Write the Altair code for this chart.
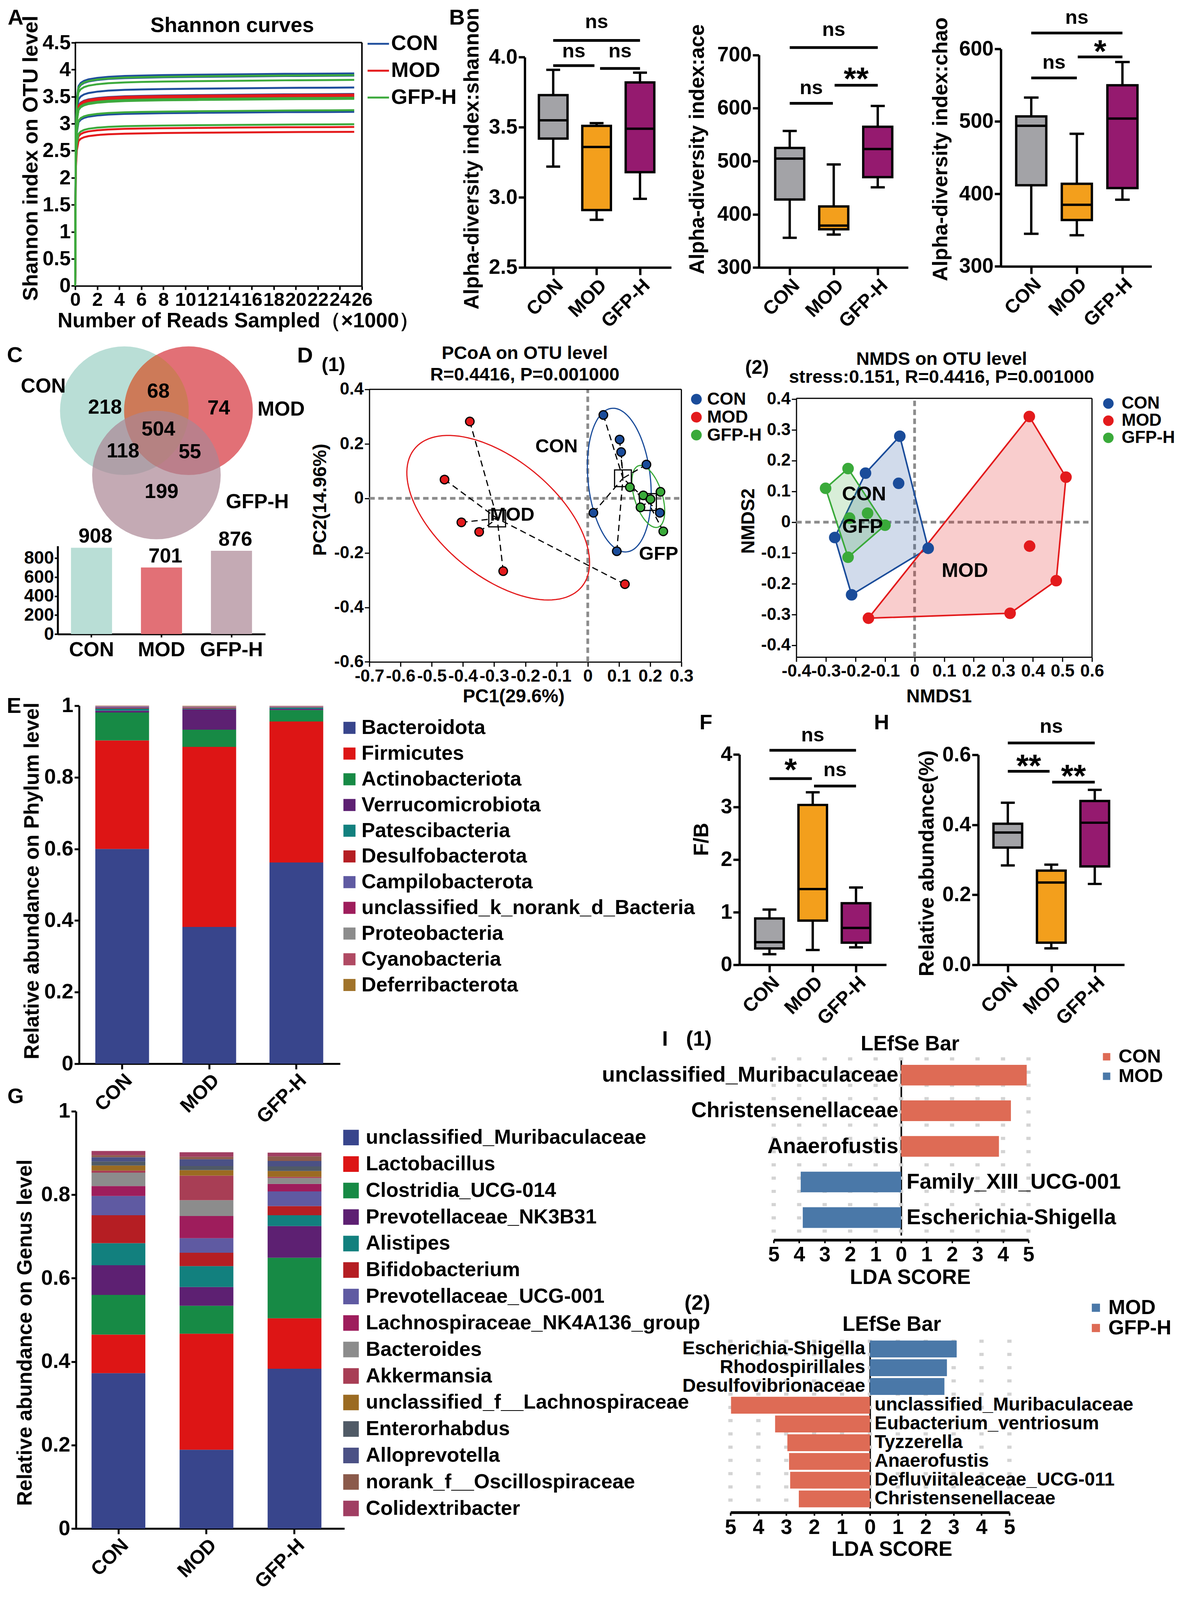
import altair as alt
import numpy as np
import pandas as pd

FONT = "Liberation Sans"
M = 8
SY = 4096 / 4257          # visible picture height / reference height
W, H = 3018, 4088
FS = 0.97                 # font scale


def px(v):                # reference x -> canvas x
    return v - M


def py(v):                # reference y -> canvas y
    return v * SY - M


def f(n):
    return round(n * FS)


GROUPS = ["CON", "MOD", "GFP-H"]

# ---------------- A: Shannon curves ----------------
A_READS_K = [0, 0.05, 0.15, 0.3, 0.5, 0.8, 1.2, 2, 3, 4.5, 6, 8, 11, 15, 19, 23, 25.3]
A_PROFILE = [0, 0.75, 0.88, 0.94, 0.955, 0.965, 0.972, 0.979, 0.984, 0.988, 0.99,
             0.992, 0.994, 0.996, 0.998, 0.999, 1.0]
A_END_CON = [3.93, 3.89, 3.67, 3.55, 3.50, 3.22]
A_END_MOD = [3.54, 3.52, 3.50, 3.47, 2.94, 2.85]
A_END_GFP = [3.90, 3.81, 3.48, 3.46, 3.25, 2.99]
LINE_COLORS = ["#1F4E9C", "#E41A1C", "#3DAA3D"]

# ---------------- B / F / H: box plots ----------------
BOX_COLORS = ["#A3A3A7", "#F39F1C", "#951A6F"]
SHANNON = dict(lo=[3.22, 2.84, 2.99], q1=[3.42, 2.91, 3.18], med=[3.55, 3.36, 3.49],
               q3=[3.73, 3.51, 3.82], hi=[3.91, 3.53, 3.89])
ACE = dict(lo=[356, 362, 451], q1=[428, 372, 470], med=[505, 379, 523],
           q3=[525, 415, 565], hi=[557, 494, 604])
CHAO = dict(lo=[345, 343, 392], q1=[412, 364, 408], med=[494, 385, 504],
            q3=[507, 414, 550], hi=[533, 483, 582])
FB = dict(lo=[0.20, 0.28, 0.33], q1=[0.31, 0.84, 0.42], med=[0.43, 1.44, 0.70],
          q3=[0.88, 3.04, 1.17], hi=[1.05, 3.28, 1.47])
RA = dict(lo=[0.284, 0.047, 0.231], q1=[0.335, 0.063, 0.281], med=[0.378, 0.235, 0.406],
          q3=[0.403, 0.269, 0.468], hi=[0.463, 0.286, 0.500])
# (from, to, line y, text y, label)
SIG_SHANNON = [(0, 2, 4.12, 4.25, "ns"), (0, 0.95, 3.94, 4.04, "ns"), (1.08, 2, 3.92, 4.04, "ns")]
SIG_ACE = [(0, 2, 714, 747, "ns"), (0, 0.98, 609, 637, "ns"), (1.02, 2, 643, 668, "**")]
SIG_CHAO = [(0, 2, 622, 643, "ns"), (0, 1, 560, 581, "ns"), (1.02, 2, 589, 606, "*")]
SIG_FB = [(0, 2, 4.08, 4.36, "ns"), (0, 0.98, 3.54, 3.84, "*"), (1.03, 2, 3.40, 3.70, "ns")]
SIG_RA = [(0, 2, 0.634, 0.68, "ns"), (0, 0.96, 0.553, 0.588, "**"), (1.02, 2, 0.522, 0.559, "**")]

# ---------------- C: Venn + totals ----------------
VENN_SETS = ["CON", "MOD", "GFP-H"]
VENN_X = [0.0, 1.0, 0.5]
VENN_Y = [0.0, 0.0, -1.0]
VENN_FILL = ["#B9DED6", "#E27076", "#AB8694"]
VENN_OPACITY = [1.0, 1.0, 0.7]
VENN_CON_MOD_FILL = "#CD7A58"
VENN_COUNTS = [218, 68, 74, 504, 118, 55, 199]
VENN_TX = [-0.30, 0.53, 1.47, 0.53, -0.02, 1.02, 0.58]
VENN_TY = [0.05, 0.30, 0.04, -0.29, -0.63, -0.64, -1.26]
VENN_LAB_X = [-1.26, 2.44, 2.07]
VENN_LAB_Y = [0.38, 0.02, -1.42]
C_TOTALS = [908, 701, 876]
C_COLORS = ["#B9DED6", "#E27076", "#C4AAB4"]

# ---------------- D: PCoA / NMDS ----------------
D_COLORS = ["#1A4C9A", "#E31A1C", "#3AAA3A"]
PC_CON_X = [0.050, 0.102, 0.107, 0.188, 0.018, 0.093, 0.231]
PC_CON_Y = [0.306, 0.216, 0.170, 0.124, -0.053, -0.194, -0.053]
PC_MOD_X = [-0.378, -0.459, -0.405, -0.348, -0.271, 0.119]
PC_MOD_Y = [0.282, 0.069, -0.088, -0.123, -0.267, -0.315]
PC_GFP_X = [0.135, 0.178, 0.233, 0.169, 0.242, 0.201]
PC_GFP_Y = [0.041, 0.011, 0.024, -0.033, -0.121, -0.003]
# group, centre x, centre y, semi-major, semi-minor, angle (deg)
PC_ELLIPSES = [("CON", 0.101, 0.067, 0.2645, 0.10, -85.0),
               ("MOD", -0.287, -0.071, 0.37, 0.20, -46.6),
               ("GFP-H", 0.194, 0.007, 0.117, 0.045, -75.4)]
PC_LABELS = [("CON", -0.10, 0.19), ("MOD", -0.242, -0.06), ("GFP", 0.227, -0.204)]
NM_CON_X = [-0.050, -0.166, -0.054, -0.270, -0.213, 0.046]
NM_CON_Y = [0.279, 0.159, 0.126, -0.050, -0.236, -0.085]
NM_MOD_X = [0.388, 0.512, 0.479, 0.323, -0.156, 0.389]
NM_MOD_Y = [0.343, 0.146, -0.190, -0.296, -0.312, -0.078]
NM_GFP_X = [-0.225, -0.301, -0.159, -0.220, -0.100, -0.225]
NM_GFP_Y = [0.174, 0.110, 0.029, 0.013, -0.010, -0.114]
NM_LABELS = [("CON", -0.171, 0.089), ("GFP", -0.176, -0.016), ("MOD", 0.170, -0.159)]

# ---------------- E: phylum ----------------
PHYLA = ["Bacteroidota", "Firmicutes", "Actinobacteriota", "Verrucomicrobiota",
         "Patescibacteria", "Desulfobacterota", "Campilobacterota",
         "unclassified_k_norank_d_Bacteria", "Proteobacteria", "Cyanobacteria",
         "Deferribacterota"]
PHY_COLORS = ["#38458C", "#DD1515", "#178A45", "#5D2072", "#12807E", "#B51E23",
              "#5F5AA2", "#9E1D5C", "#8C8C8C", "#B04A63", "#A0732A"]
PHY_CON = [0.600, 0.303, 0.078, 0.005, 0.006, 0.002, 0.003, 0.001, 0.001, 0.001, 0.0005]
PHY_MOD = [0.382, 0.503, 0.048, 0.057, 0.002, 0.002, 0.001, 0.001, 0.002, 0.001, 0.001]
PHY_GFP = [0.562, 0.394, 0.032, 0.003, 0.004, 0.001, 0.001, 0.001, 0.001, 0.0005, 0.0005]

# ---------------- G: genus ----------------
GENERA = ["unclassified_Muribaculaceae", "Lactobacillus", "Clostridia_UCG-014",
          "Prevotellaceae_NK3B31", "Alistipes", "Bifidobacterium", "Prevotellaceae_UCG-001",
          "Lachnospiraceae_NK4A136_group", "Bacteroides", "Akkermansia",
          "unclassified_f__Lachnospiraceae", "Enterorhabdus", "Alloprevotella",
          "norank_f__Oscillospiraceae", "Colidextribacter"]
GEN_COLORS = ["#38458C", "#DD1515", "#178A45", "#5D2072", "#12807E", "#B51E23",
              "#5F5AA2", "#9E1D5C", "#8C8C8C", "#A83E55", "#9B6B22", "#505A66",
              "#4B5185", "#8B5A4B", "#A03E62"]
GEN_CON = [0.3725, 0.0925, 0.095, 0.071, 0.053, 0.067, 0.046, 0.024, 0.032, 0.005,
           0.012, 0.010, 0.010, 0.005, 0.010]
GEN_MOD = [0.189, 0.278, 0.067, 0.045, 0.050, 0.032, 0.035, 0.053, 0.038, 0.059,
           0.013, 0.010, 0.016, 0.006, 0.011]
GEN_GFP = [0.383, 0.121, 0.145, 0.076, 0.026, 0.022, 0.035, 0.018, 0.014, 0.003,
           0.014, 0.011, 0.013, 0.011, 0.009]

# ---------------- I: LEfSe ----------------
LDA_RED = "#DE6B55"
LDA_BLUE = "#4A78A8"
LDA1_TAXA = ["unclassified_Muribaculaceae", "Christensenellaceae", "Anaerofustis",
             "Family_XIII_UCG-001", "Escherichia-Shigella"]
LDA1_SCORE = [4.93, 4.31, 3.84, -3.94, -3.86]
LDA1_GROUP = ["CON", "CON", "CON", "MOD", "MOD"]
LDA2_TAXA = ["Escherichia-Shigella", "Rhodospirillales", "Desulfovibrionaceae",
             "unclassified_Muribaculaceae", "Eubacterium_ventriosum", "Tyzzerella",
             "Anaerofustis", "Defluviitaleaceae_UCG-011", "Christensenellaceae"]
LDA2_SCORE = [3.11, 2.76, 2.67, -4.98, -3.40, -2.96, -2.90, -2.86, -2.55]
LDA2_GROUP = ["MOD", "MOD", "MOD", "GFP-H", "GFP-H", "GFP-H", "GFP-H", "GFP-H", "GFP-H"]
LDA_TICKS = list(range(-5, 6))

# ---------------- annotations (text, ref x, ref y, font size) ----------------
ANNOT = [("A", 40, 42, 58), ("B", 1173, 42, 58), ("C", 38, 943, 58), ("D", 783, 944, 58),
         ("(1)", 856, 969, 52), ("(2)", 1943, 976, 52), ("E", 36, 1878, 58),
         ("F", 1812, 1923, 56), ("H", 2263, 1923, 56), ("G", 40, 2920, 56),
         ("I", 1707, 2767, 56), ("(1)", 1794, 2767, 56), ("(2)", 1790, 3472, 56),
         ("Shannon curves", 596, 63, 56),
         ("PCoA on OTU level", 1347, 937, 48), ("R=0.4416, P=0.001000", 1347, 995, 48),
         ("NMDS on OTU level", 2417, 953, 48),
         ("stress:0.151, R=0.4416, P=0.001000", 2417, 1001, 48),
         ("LEfSe Bar", 2336, 2780, 55), ("LEfSe Bar", 2289, 3528, 55)]


# ====================================================================
def axis(orient, pos, **kw):
    off = (py(pos) - H) if orient == "bottom" else (-px(pos))
    d = dict(orient=orient, offset=off, grid=False, labelOverlap=False, labelFlush=False,
             domainColor="black", tickColor="black", labelColor="black", titleColor="black",
             labelFont=FONT, titleFont=FONT, labelFontWeight="bold", titleFontWeight="bold",
             labelLimit=2000)
    d.update(kw)
    return alt.Axis(**d)


def legend(x, y, **kw):
    d = dict(orient="none", legendX=px(x), legendY=py(y), title=None, padding=0,
             labelFont=FONT, labelFontWeight="bold", labelColor="black", labelLimit=2000)
    d.update(kw)
    return alt.Legend(**d)


# ---------------- A ----------------
def panel_a():
    rows = []
    for g, ends in zip(GROUPS, [A_END_CON, A_END_MOD, A_END_GFP]):
        for s, e in enumerate(ends):
            for r, p in zip(A_READS_K, A_PROFILE):
                rows.append({"g": g, "s": f"{g}_{s}", "x": r, "y": e * p})
    df = pd.DataFrame(rows)
    xs = alt.Scale(domain=[0, 26], range=[px(193), px(929)], nice=False, zero=False)
    ys = alt.Scale(domain=[0, 4.5], range=[py(757), py(108)], nice=False, zero=False)
    xa = axis("bottom", 757, values=list(range(0, 27, 2)), labelFontSize=f(51), tickSize=10,
              tickWidth=4, domainWidth=4, labelPadding=2,
              title="Number of Reads Sampled（×1000）", titleFontSize=f(55),
              titleX=px(612), titleY=93 * SY, titleBaseline="middle")
    ya = axis("left", 193, values=[i * 0.5 for i in range(10)], format=".1~f",
              labelFontSize=f(54), tickSize=10, tickWidth=4, domainWidth=4, labelPadding=2,
              title="Shannon index on OTU level", titleFontSize=f(56), titleX=-113,
              titleY=py(416), titleBaseline="middle")
    lines = alt.Chart(df).mark_line(strokeWidth=5).encode(
        x=alt.X("x:Q", scale=xs, axis=xa), y=alt.Y("y:Q", scale=ys, axis=ya),
        color=alt.Color("g:N", scale=alt.Scale(domain=GROUPS, range=LINE_COLORS),
                        legend=legend(941, 80, symbolType="stroke", symbolSize=3025,
                                      symbolStrokeWidth=5, labelFontSize=f(56), rowPadding=12,
                                      labelOffset=3)),
        detail="s:N")
    frame = pd.DataFrame({"x": [0, 26], "x2": [26, 26], "y": [4.5, 0], "y2": [4.5, 4.5]})
    fr = alt.Chart(frame).mark_rule(color="black", strokeWidth=4).encode(
        x=alt.X("x:Q", scale=xs, axis=xa), x2="x2:Q",
        y=alt.Y("y:Q", scale=ys, axis=ya), y2="y2:Q")
    return alt.layer(lines, fr)


# ---------------- box panels ----------------
def box_panel(stats, sig, xdom, xl, xr, yb, yt, ydom, yvals, yfmt, ytitle, ytx, yty):
    lw = 6
    df = pd.DataFrame({"i": [0, 1, 2], "g": GROUPS, **stats})
    df["bl"] = df["i"] - 0.33
    df["br"] = df["i"] + 0.33
    df["cl"] = df["i"] - 0.16
    df["cr"] = df["i"] + 0.16
    xs = alt.Scale(domain=xdom, range=[px(xl), px(xr)], nice=False, zero=False)
    ys = alt.Scale(domain=ydom, range=[py(yb), py(yt)], nice=False, zero=False)
    xa = axis("bottom", yb, values=[0, 1, 2], labelExpr="['CON','MOD','GFP-H'][datum.value]",
              labelAngle=-45, labelFontSize=f(51), tickSize=19, tickWidth=lw, domainWidth=lw,
              labelPadding=2, title=None)
    ya = axis("left", xl, values=yvals, format=yfmt, labelFontSize=f(55), tickSize=16,
              tickWidth=lw, domainWidth=lw, labelPadding=3, title=ytitle, titleFontSize=f(55),
              titleX=ytx, titleY=py(yty), titleBaseline="middle")

    def X(fl):
        return alt.X(fl, scale=xs, axis=xa)

    def Y(fl):
        return alt.Y(fl, scale=ys, axis=ya)

    base = alt.Chart(df)
    whisker = base.mark_rule(color="black", strokeWidth=lw).encode(x=X("i:Q"), y=Y("lo:Q"), y2="hi:Q")
    cap_lo = base.mark_rule(color="black", strokeWidth=lw).encode(x=X("cl:Q"), x2="cr:Q", y=Y("lo:Q"))
    cap_hi = base.mark_rule(color="black", strokeWidth=lw).encode(x=X("cl:Q"), x2="cr:Q", y=Y("hi:Q"))
    box = base.mark_bar(stroke="black", strokeWidth=lw).encode(
        x=X("bl:Q"), x2="br:Q", y=Y("q1:Q"), y2="q3:Q",
        color=alt.Color("g:N", scale=alt.Scale(domain=GROUPS, range=BOX_COLORS), legend=None))
    med = base.mark_rule(color="black", strokeWidth=lw).encode(x=X("bl:Q"), x2="br:Q", y=Y("med:Q"))
    sdf = pd.DataFrame(sig, columns=["x1", "x2", "yl", "yt", "lab"])
    sdf["xm"] = (sdf["x1"] + sdf["x2"]) / 2
    sb = alt.Chart(sdf)
    srule = sb.mark_rule(color="black", strokeWidth=lw + 1).encode(x=X("x1:Q"), x2="x2:Q", y=Y("yl:Q"))
    ns = sb.transform_filter("datum.lab == 'ns'").mark_text(
        fontSize=f(53), font=FONT, fontWeight="bold", color="black").encode(
        x=X("xm:Q"), y=Y("yt:Q"), text="lab:N")
    st = sb.transform_filter("datum.lab != 'ns'").mark_text(
        fontSize=f(85), dy=20, font=FONT, fontWeight="bold", color="black").encode(
        x=X("xm:Q"), y=Y("yt:Q"), text="lab:N")
    return alt.layer(whisker, cap_lo, cap_hi, box, med, srule, ns, st)


# ---------------- C ----------------
def panel_c():
    ppu = 165.0                                   # pixels per Venn unit (circle radius)
    cen_x, cen_y = px(319), py(1090)              # canvas position of the CON centre
    x0, x1 = px(148), px(806)
    y0, y1 = py(1440), py(1033)
    xs = alt.Scale(domain=[(x0 - cen_x) / ppu, (x1 - cen_x) / ppu], range=[x0, x1],
                   nice=False, zero=False)
    ys = alt.Scale(domain=[(cen_y - y0) / ppu, (cen_y - y1) / ppu], range=[y0, y1],
                   nice=False, zero=False)
    X = lambda fl: alt.X(fl, scale=xs, axis=None)
    Y = lambda fl: alt.Y(fl, scale=ys, axis=None)
    vdf = pd.DataFrame({"s": VENN_SETS, "x": VENN_X, "y": VENN_Y, "col": VENN_FILL,
                        "op": VENN_OPACITY})
    base_circles = alt.Chart(vdf.iloc[:2]).mark_circle(size=(2 * ppu) ** 2).encode(
        x=X("x:Q"), y=Y("y:Q"), color=alt.Color("col:N", scale=None),
        opacity=alt.Opacity("op:Q", scale=None))
    # lens shared by CON and MOD (intersection of the two unit circles)
    a1 = np.deg2rad(np.linspace(-60, 60, 61))
    a2 = np.deg2rad(np.linspace(120, 240, 61))
    lx = list(VENN_X[0] + np.cos(a1)) + list(VENN_X[1] + np.cos(a2))
    ly = list(VENN_Y[0] + np.sin(a1)) + list(VENN_Y[1] + np.sin(a2))
    lx.append(lx[0])
    ly.append(ly[0])
    ldf_ = pd.DataFrame({"k": range(len(lx)), "x": lx, "y": ly})
    lens = alt.Chart(ldf_).mark_line(fill=VENN_CON_MOD_FILL, stroke=VENN_CON_MOD_FILL,
                                     strokeWidth=1, fillOpacity=1).encode(
        x=X("x:Q"), y=Y("y:Q"), order="k:Q")
    top_circle = alt.Chart(vdf.iloc[2:]).mark_circle(size=(2 * ppu) ** 2).encode(
        x=X("x:Q"), y=Y("y:Q"), color=alt.Color("col:N", scale=None),
        opacity=alt.Opacity("op:Q", scale=None))
    ndf = pd.DataFrame({"n": VENN_COUNTS, "x": VENN_TX, "y": VENN_TY})
    nums = alt.Chart(ndf).mark_text(fontSize=f(54), font=FONT, fontWeight="bold", color="black").encode(
        x=X("x:Q"), y=Y("y:Q"), text="n:N")
    ldf = pd.DataFrame({"t": VENN_SETS, "x": VENN_LAB_X, "y": VENN_LAB_Y})
    labs = alt.Chart(ldf).mark_text(fontSize=f(54), font=FONT, fontWeight="bold", color="black").encode(
        x=X("x:Q"), y=Y("y:Q"), text="t:N")
    venn = alt.layer(base_circles, lens, top_circle, nums, labs)

    cdf = pd.DataFrame({"g": GROUPS, "n": C_TOTALS, "col": C_COLORS})
    bxs = alt.Scale(domain=GROUPS, range=[px(148), px(681)], paddingInner=0.413, paddingOuter=0.19)
    bys = alt.Scale(domain=[0, 926], range=[py(1686), py(1451)], nice=False, zero=False)
    bxa = axis("bottom", 1686, labelAngle=0, labelFontSize=f(54), tickSize=8, tickWidth=4,
               domainWidth=5, labelPadding=7, title=None)
    bya = axis("left", 148, values=[0, 200, 400, 600, 800], labelFontSize=46, tickSize=8,
               tickWidth=4, domainWidth=5, labelPadding=2, title=None)
    bars = alt.Chart(cdf).mark_bar().encode(
        x=alt.X("g:N", scale=bxs, axis=bxa, sort=GROUPS),
        y=alt.Y("n:Q", scale=bys, axis=bya), color=alt.Color("col:N", scale=None))
    bl = alt.Chart(cdf).mark_text(baseline="bottom", dy=-2, dx=10, fontSize=f(54), font=FONT,
                                  fontWeight="bold", color="black").encode(
        x=alt.X("g:N", scale=bxs, axis=bxa, sort=GROUPS),
        y=alt.Y("n:Q", scale=bys, axis=bya), text="n:Q")
    return venn, alt.layer(bars, bl)


# ---------------- D ----------------
def points_df(xs_by_g, ys_by_g):
    rows = []
    for g, xv, yv in zip(GROUPS, xs_by_g, ys_by_g):
        for a, b in zip(xv, yv):
            rows.append({"g": g, "x": a, "y": b})
    return pd.DataFrame(rows)


def ellipse_df(spec, n=120):
    rows = []
    t = np.linspace(0, 2 * np.pi, n)
    for (g, ex, ey, a, b, deg), col in zip(spec, D_COLORS):
        th = np.deg2rad(deg)
        xx = ex + a * np.cos(t) * np.cos(th) - b * np.sin(t) * np.sin(th)
        yy = ey + a * np.cos(t) * np.sin(th) + b * np.sin(t) * np.cos(th)
        for k, (u, v) in enumerate(zip(xx, yy)):
            rows.append({"g": g, "col": col, "k": k, "x": u, "y": v})
    return pd.DataFrame(rows)


def convex_hull(pts):
    pts = sorted(set(pts))

    def cross(o, a, b):
        return (a[0] - o[0]) * (b[1] - o[1]) - (a[1] - o[1]) * (b[0] - o[0])

    lower, upper = [], []
    for p in pts:
        while len(lower) >= 2 and cross(lower[-2], lower[-1], p) <= 0:
            lower.pop()
        lower.append(p)
    for p in reversed(pts):
        while len(upper) >= 2 and cross(upper[-2], upper[-1], p) <= 0:
            upper.pop()
        upper.append(p)
    return lower[:-1] + upper[:-1]


def ref_and_frame(xs, ys, xa, ya, xdom, ydom):
    X = lambda fl: alt.X(fl, scale=xs, axis=xa)
    Y = lambda fl: alt.Y(fl, scale=ys, axis=ya)
    rdf = pd.DataFrame({"x": [0, xdom[0]], "x2": [0, xdom[1]], "y": [ydom[0], 0], "y2": [ydom[1], 0]})
    ref = alt.Chart(rdf).mark_rule(color="#8C8C8C", strokeWidth=7, strokeDash=[14, 9]).encode(
        x=X("x:Q"), x2="x2:Q", y=Y("y:Q"), y2="y2:Q")
    fdf = pd.DataFrame({"x": [xdom[0], xdom[1]], "x2": [xdom[1], xdom[1]],
                        "y": [ydom[1], ydom[0]], "y2": [ydom[1], ydom[1]]})
    fr = alt.Chart(fdf).mark_rule(color="black", strokeWidth=3).encode(
        x=X("x:Q"), x2="x2:Q", y=Y("y:Q"), y2="y2:Q")
    return ref, fr


def panel_d1():
    xdom, ydom = [-0.7, 0.3], [-0.6, 0.4]
    xs = alt.Scale(domain=xdom, range=[px(948), px(1749)], nice=False, zero=False)
    ys = alt.Scale(domain=ydom, range=[py(1760), py(1033)], nice=False, zero=False)
    xa = axis("bottom", 1760, values=[round(v / 10, 1) for v in range(-7, 4)],
              labelExpr="'' + datum.value", labelFontSize=f(45), tickSize=12, tickWidth=3,
              domainWidth=3, labelPadding=3, title="PC1(29.6%)", titleFontSize=f(49),
              titleX=px(1318), titleY=93 * SY, titleBaseline="middle")
    ya = axis("left", 948, values=[round(v / 10, 1) for v in range(-6, 5, 2)],
              labelExpr="'' + datum.value", labelFontSize=f(45), tickSize=12, tickWidth=3,
              domainWidth=3, labelPadding=3, title="PC2(14.96%)", titleFontSize=f(49),
              titleX=-125, titleY=py(1327), titleBaseline="middle")
    X = lambda fl: alt.X(fl, scale=xs, axis=xa)
    Y = lambda fl: alt.Y(fl, scale=ys, axis=ya)
    pts = points_df([PC_CON_X, PC_MOD_X, PC_GFP_X], [PC_CON_Y, PC_MOD_Y, PC_GFP_Y])
    cen = pts.groupby("g", as_index=False)[["x", "y"]].mean().rename(columns={"x": "mx", "y": "my"})
    spokes = pts.merge(cen, on="g")
    ref, fr = ref_and_frame(xs, ys, xa, ya, xdom, ydom)
    ell = alt.Chart(ellipse_df(PC_ELLIPSES)).mark_line(strokeWidth=3).encode(
        x=X("x:Q"), y=Y("y:Q"), stroke=alt.Stroke("col:N", scale=None), detail="g:N",
        order="k:Q")
    sp = alt.Chart(spokes).mark_rule(color="black", strokeWidth=3, strokeDash=[16, 10]).encode(
        x=X("x:Q"), y=Y("y:Q"), x2="mx:Q", y2="my:Q")
    sq = alt.Chart(cen).mark_point(shape="square", filled=False, size=1850, stroke="black",
                                   strokeWidth=3, opacity=1).encode(x=X("mx:Q"), y=Y("my:Q"))
    dots = alt.Chart(pts).mark_circle(size=484, stroke="black", strokeWidth=3, opacity=1).encode(
        x=X("x:Q"), y=Y("y:Q"),
        color=alt.Color("g:N", scale=alt.Scale(domain=GROUPS, range=D_COLORS),
                        legend=legend(1765, 1036, symbolType="circle", symbolSize=760,
                                      symbolStrokeWidth=0, labelFontSize=45, rowPadding=0,
                                      labelOffset=5)))
    ldf = pd.DataFrame(PC_LABELS, columns=["t", "x", "y"])
    labs = alt.Chart(ldf).mark_text(fontSize=f(51), font=FONT, fontWeight="bold", color="black").encode(
        x=X("x:Q"), y=Y("y:Q"), text="t:N")
    return alt.layer(ref, fr, ell, sp, sq, dots, labs)


def panel_d2():
    xdom, ydom = [-0.4, 0.6], [-0.438, 0.402]
    xs = alt.Scale(domain=xdom, range=[px(2044), px(2803)], nice=False, zero=False)
    ys = alt.Scale(domain=ydom, range=[py(1747), py(1057)], nice=False, zero=False)
    xa = axis("bottom", 1747, values=[round(v / 10, 1) for v in range(-4, 7)],
              labelExpr="'' + datum.value", labelFontSize=f(45), tickSize=12, tickWidth=3,
              domainWidth=3, labelPadding=3, title="NMDS1", titleFontSize=f(49),
              titleX=px(2410), titleY=106 * SY, titleBaseline="middle")
    ya = axis("left", 2044, values=[round(v / 10, 1) for v in range(-4, 5)],
              labelExpr="'' + datum.value", labelFontSize=f(45), tickSize=12, tickWidth=3,
              domainWidth=3, labelPadding=3, title="NMDS2", titleFontSize=f(49),
              titleX=-122, titleY=py(1384), titleBaseline="middle")
    X = lambda fl: alt.X(fl, scale=xs, axis=xa)
    Y = lambda fl: alt.Y(fl, scale=ys, axis=ya)
    ref, fr = ref_and_frame(xs, ys, xa, ya, xdom, ydom)
    layers = [ref, fr]
    gx = {"CON": NM_CON_X, "MOD": NM_MOD_X, "GFP-H": NM_GFP_X}
    gy = {"CON": NM_CON_Y, "MOD": NM_MOD_Y, "GFP-H": NM_GFP_Y}
    gc = dict(zip(GROUPS, D_COLORS))
    for g, op in [("CON", 0.2), ("GFP-H", 0.2), ("MOD", 0.22)]:
        hp = convex_hull(list(zip(gx[g], gy[g])))
        hp = hp + [hp[0]]
        hdf = pd.DataFrame({"k": range(len(hp)), "x": [p[0] for p in hp], "y": [p[1] for p in hp]})
        layers.append(alt.Chart(hdf).mark_line(stroke=gc[g], strokeWidth=4, fill=gc[g],
                                               fillOpacity=op).encode(
            x=X("x:Q"), y=Y("y:Q"), order="k:Q"))
    pts = points_df([NM_CON_X, NM_MOD_X, NM_GFP_X], [NM_CON_Y, NM_MOD_Y, NM_GFP_Y])
    layers.append(alt.Chart(pts).mark_circle(size=880, opacity=1).encode(
        x=X("x:Q"), y=Y("y:Q"),
        color=alt.Color("g:N", scale=alt.Scale(domain=GROUPS, range=D_COLORS),
                        legend=legend(2823, 1048, symbolType="circle", symbolSize=729,
                                      symbolStrokeWidth=0, labelFontSize=44, rowPadding=0,
                                      labelOffset=12))))
    ldf = pd.DataFrame(NM_LABELS, columns=["t", "x", "y"])
    layers.append(alt.Chart(ldf).mark_text(fontSize=f(53), font=FONT, fontWeight="bold",
                                           color="black").encode(
        x=X("x:Q"), y=Y("y:Q"), text="t:N"))
    return alt.layer(*layers)


# ---------------- E / G stacked bars ----------------
def stack_panel(cats, cols, vals, xl, xr, yb, yt, pin, pout, align, ytitle, ytx, yty,
                lgx, lgy, sym, rowpad, loff):
    rows = []
    for g, vv in zip(GROUPS, vals):
        for k, (c, v) in enumerate(zip(cats, vv)):
            rows.append({"g": g, "c": c, "k": k, "v": v})
    df = pd.DataFrame(rows)
    xs = alt.Scale(domain=GROUPS, range=[px(xl), px(xr)], paddingInner=pin,
                   paddingOuter=pout, align=align)
    ys = alt.Scale(domain=[0, 1], range=[py(yb), py(yt)], nice=False, zero=False)
    xa = axis("bottom", yb, labelAngle=-45, labelFontSize=f(52), tickSize=14, tickWidth=5,
              domainWidth=5, labelPadding=3, title=None)
    ya = axis("left", xl, values=[0, 0.2, 0.4, 0.6, 0.8, 1.0], format=".1~f",
              labelFontSize=f(56), tickSize=12, tickWidth=5, domainWidth=5, labelPadding=3,
              title=ytitle, titleFontSize=f(55), titleX=ytx, titleY=py(yty),
              titleBaseline="middle")
    return alt.Chart(df).mark_bar().encode(
        x=alt.X("g:N", scale=xs, axis=xa, sort=GROUPS),
        y=alt.Y("v:Q", scale=ys, axis=ya, stack="zero"),
        color=alt.Color("c:N", scale=alt.Scale(domain=cats, range=cols), sort=cats,
                        legend=legend(lgx, lgy, symbolType="square", symbolSize=sym * sym,
                                      symbolStrokeWidth=0, labelFontSize=f(54),
                                      rowPadding=rowpad, labelOffset=loff)),
        order=alt.Order("k:Q", sort="ascending"))


# ---------------- I: LEfSe ----------------
def lefse_grid(xl, xr, yt, yb):
    gdf = pd.DataFrame({"x": LDA_TICKS, "y0": [0] * len(LDA_TICKS), "y1": [1] * len(LDA_TICKS)})
    xs = alt.Scale(domain=[-5, 5], range=[px(xl), px(xr)], nice=False, zero=False)
    ys = alt.Scale(domain=[0, 1], range=[py(yt), py(yb)], nice=False, zero=False)
    return alt.Chart(gdf).mark_rule(color="#D4D4D4", strokeWidth=11, strokeDash=[8, 26]).encode(
        x=alt.X("x:Q", scale=xs, axis=None), y=alt.Y("y0:Q", scale=ys, axis=None), y2="y1:Q")


def lefse_panel(taxa, scores, grp, gdom, gcol, xl, xr, yt, yb, axis_y, zero_x, pin, pout,
                tx, ty, lgx, lgy, sym, lfs, rowpad, dpos, dneg, tfs):
    df = pd.DataFrame({"t": taxa, "s": scores, "g": grp, "z": [0] * len(taxa)})
    xs = alt.Scale(domain=[-5, 5], range=[px(xl), px(xr)], nice=False, zero=False)
    ys = alt.Scale(domain=taxa, range=[py(yt), py(yb)], paddingInner=pin, paddingOuter=pout)
    xa = axis("bottom", axis_y, values=LDA_TICKS, labelExpr="abs(datum.value)",
              labelFontSize=f(55), tickSize=8, tickWidth=4, domainWidth=7, labelPadding=5,
              title="LDA SCORE", titleFontSize=f(55), titleX=px(tx), titleY=ty * SY,
              titleBaseline="middle")
    ya = alt.Axis(orient="left", offset=-px(zero_x), labels=False, ticks=False, domainWidth=4,
                  domainColor="black", title=None, grid=False)
    X = lambda fl: alt.X(fl, scale=xs, axis=xa)
    Y = lambda fl: alt.Y(fl, scale=ys, axis=ya, sort=taxa)
    bars = alt.Chart(df).mark_bar().encode(
        x=X("s:Q"), x2="z:Q", y=Y("t:N"),
        color=alt.Color("g:N", scale=alt.Scale(domain=gdom, range=gcol),
                        legend=legend(lgx, lgy, symbolType="square", symbolSize=sym * sym,
                                      symbolStrokeWidth=0, labelFontSize=lfs,
                                      rowPadding=rowpad, labelOffset=6)))
    pos = alt.Chart(df).transform_filter("datum.s > 0").mark_text(
        align="right", dx=-dpos, fontSize=tfs, font=FONT, fontWeight="bold", color="black").encode(
        x=X("z:Q"), y=Y("t:N"), text="t:N")
    neg = alt.Chart(df).transform_filter("datum.s < 0").mark_text(
        align="left", dx=dneg, fontSize=tfs, font=FONT, fontWeight="bold", color="black").encode(
        x=X("z:Q"), y=Y("t:N"), text="t:N")
    return alt.layer(bars, pos, neg)


# ---------------- annotations ----------------
def annotations():
    adf = pd.DataFrame(ANNOT, columns=["t", "x", "y", "fs"])
    adf["x"] = adf["x"].map(px)
    adf["y"] = adf["y"].map(py)
    adf["fs"] = adf["fs"].map(f)
    return alt.Chart(adf).mark_text(font=FONT, fontWeight="bold", color="black").encode(
        x=alt.X("x:Q", scale=None, axis=None), y=alt.Y("y:Q", scale=None, axis=None),
        text="t:N", size=alt.Size("fs:Q", scale=None, legend=None))


# ====================================================================
A = panel_a()
B1 = box_panel(SHANNON, SIG_SHANNON, [-0.655, 2.72], 1347, 1723, 708, 147, [2.5, 4.0],
               [2.5, 3.0, 3.5, 4.0], ".1f", "Alpha-diversity index:shannon", -135, 417)
B2 = box_panel(ACE, SIG_ACE, [-0.70, 2.69], 1948, 2331, 708, 141, [300, 700],
               [300, 400, 500, 600, 700], "d", "Alpha-diversity index:ace", -158, 392)
B3 = box_panel(CHAO, SIG_CHAO, [-0.667, 2.64], 2569, 2956, 705, 125, [300, 600],
               [300, 400, 500, 600], "d", "Alpha-diversity index:chao", -154, 392)
VENN, CBAR = panel_c()
D1 = panel_d1()
D2 = panel_d2()
E = stack_panel(PHYLA, PHY_COLORS, [PHY_CON, PHY_MOD, PHY_GFP], 203, 873, 2832, 1877,
                0.383, 0.19, 0.49, "Relative abundance on Phylum level", -120, 2344,
                871, 1909, 31, 14, 5)
G = stack_panel(GENERA, GEN_COLORS, [GEN_CON, GEN_MOD, GEN_GFP], 195, 884, 4072, 2959,
                0.389, 0.219, 0.404, "Relative abundance on Genus level", -130, 3549,
                875, 3002, 40, 16, 12)
F = box_panel(FB, SIG_FB, [-0.694, 2.70], 1898, 2275, 2568, 2007, [0, 4],
              [0, 1, 2, 3, 4], "d", "F/B", -97, 2233)
Hh = box_panel(RA, SIG_RA, [-0.68, 2.68], 2511, 2886, 2568, 2008, [0, 0.6],
               [0.0, 0.2, 0.4, 0.6], ".1f", "Relative abundance(%)", -131, 2297)
I1G = lefse_grid(1986, 2640, 2815, 3290)
I1 = lefse_panel(LDA1_TAXA, LDA1_SCORE, LDA1_GROUP, ["CON", "MOD"], [LDA_RED, LDA_BLUE],
                 1986, 2640, 2815, 3290, 3302, 2313, 0.42, 0.21, 2336, 100,
                 2816, 2788, 19, 49, -4, 7, 14, 55)
I2G = lefse_grid(1875, 2591, 3568, 4018)
I2 = lefse_panel(LDA2_TAXA, LDA2_SCORE, LDA2_GROUP, ["MOD", "GFP-H"], [LDA_BLUE, LDA_RED],
                 1875, 2591, 3568, 4018, 4029, 2233, 0.1, 0.05, 2289, 99,
                 2787, 3456, 21, 52, 0, 12, 12, 48)

chart = alt.layer(A, B1, B2, B3, VENN, CBAR, D1, D2, E, G, F, Hh, I1G, I1, I2G, I2,
                  annotations()).resolve_scale(
    x="independent", y="independent", color="independent", opacity="independent",
    size="independent", stroke="independent", fill="independent", shape="independent"
).resolve_axis(x="independent", y="independent").resolve_legend(
    color="independent", opacity="independent", size="independent", stroke="independent",
    fill="independent", shape="independent"
).properties(
    width=W, height=H, autosize=alt.AutoSizeParams(type="none"), padding=0
).configure(font=FONT).configure_view(stroke=None).configure_legend(
    labelFont=FONT, labelFontWeight="bold", labelColor="black", padding=0, labelLimit=2000)

chart.save("out.html", embed_options={"renderer": "svg", "actions": False})
